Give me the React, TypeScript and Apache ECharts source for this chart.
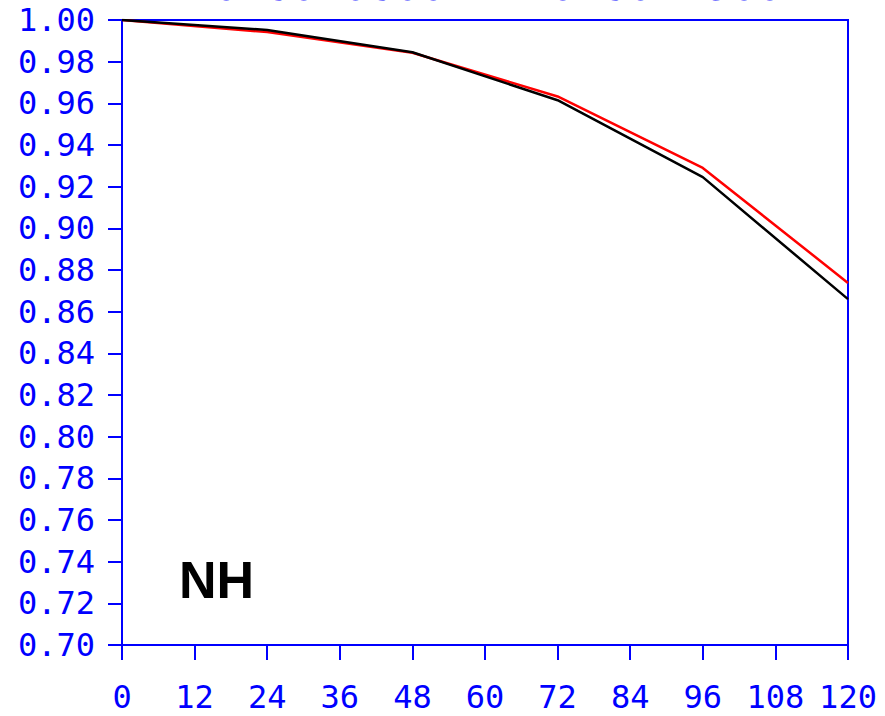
import React, { useEffect, useRef } from "react";
import * as echarts from "echarts";

const forecastHours = [0, 24, 48, 72, 96, 120];
const blackSeries = [1.0, 0.9952, 0.9845, 0.9615, 0.9246, 0.866];
const redSeries = [1.0, 0.9942, 0.9843, 0.9633, 0.929, 0.8738];
const xTicks = [0, 12, 24, 36, 48, 60, 72, 84, 96, 108, 120];
const titleText = "2016010600 - 2016021900";
const regionLabel = "NH";

export default function App() {
  const ref = useRef<HTMLDivElement>(null);
  useEffect(() => {
    if (!ref.current) return;
    const chart = echarts.init(ref.current, null, { renderer: "svg" });
    const blue = "#0000ff";
    const mono = "'DejaVu Sans Mono', monospace";
    chart.setOption({
      animation: false,
      backgroundColor: "#ffffff",
      grid: {
        left: 122,
        right: 37,
        top: 20,
        bottom: 71,
        show: true,
        borderColor: blue,
        borderWidth: 2,
      },
      xAxis: {
        type: "value",
        min: xTicks[0],
        max: xTicks[xTicks.length - 1],
        interval: 12,
        axisLine: { show: true, lineStyle: { color: blue, width: 2 } },
        axisTick: { show: true, inside: false, length: 15, lineStyle: { color: blue, width: 2 } },
        axisLabel: {
          color: blue,
          fontFamily: mono,
          fontSize: 32,
          margin: 36,
          showMinLabel: true,
          showMaxLabel: true,
        },
        splitLine: { show: false },
      },
      yAxis: {
        type: "value",
        min: 0.7,
        max: 1.0,
        interval: 0.02,
        axisLine: { show: true, lineStyle: { color: blue, width: 2 } },
        axisTick: { show: true, inside: false, length: 14, lineStyle: { color: blue, width: 2 } },
        axisLabel: {
          color: blue,
          fontFamily: mono,
          fontSize: 32,
          margin: 27,
          formatter: (v: number) => v.toFixed(2),
        },
        splitLine: { show: false },
      },
      series: [
        {
          type: "line",
          data: forecastHours.map((h, i) => [h, redSeries[i]]),
          symbol: "none",
          lineStyle: { color: "#ff0000", width: 2.5 },
          z: 2,
        },
        {
          type: "line",
          data: forecastHours.map((h, i) => [h, blackSeries[i]]),
          symbol: "none",
          lineStyle: { color: "#000000", width: 2.5 },
          z: 3,
        },
      ],
      graphic: [
        {
          type: "text",
          x: 485,
          y: 6,
          style: {
            text: titleText,
            fill: blue,
            font: "43px 'DejaVu Sans Mono', monospace",
            textAlign: "center",
            textVerticalAlign: "bottom",
          },
        },
        {
          type: "text",
          x: 179,
          y: 554,
          style: {
            text: regionLabel,
            fill: "#000000",
            font: "bold 52px 'Liberation Sans', Arial, sans-serif",
            textAlign: "left",
            textVerticalAlign: "top",
          },
        },
      ],
    });
    return () => chart.dispose();
  }, []);
  return (
    <div
      ref={ref}
      style={{ position: "fixed", left: 0, top: 0, width: 885, height: 716 }}
    />
  );
}
